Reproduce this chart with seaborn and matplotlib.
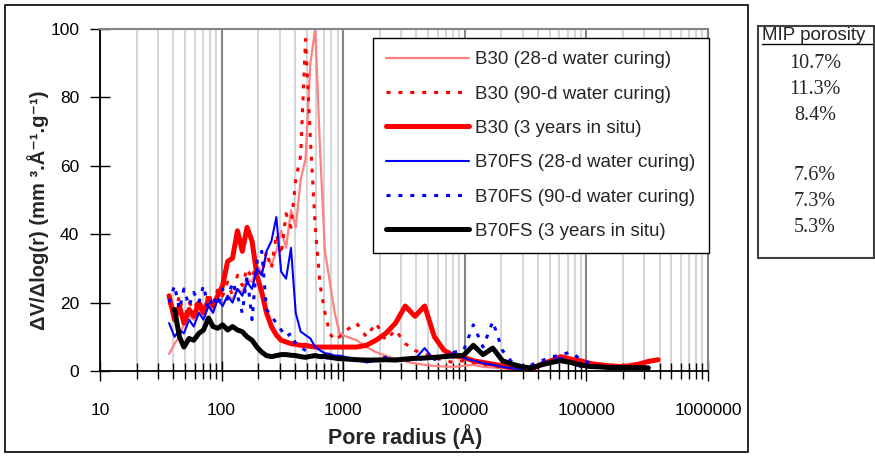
import numpy as np
import pandas as pd
import matplotlib
matplotlib.use("Agg")
import matplotlib.pyplot as plt
import seaborn as sns
from matplotlib.ticker import LogLocator, FuncFormatter, NullFormatter
from matplotlib.patches import Rectangle
from matplotlib.lines import Line2D

nan = np.nan

# ---------------- data ----------------
radius = [37, 41, 45, 49, 54, 59, 65, 71, 78, 85, 93, 102, 112, 123, 135, 148, 162, 178,
          195, 214, 234, 257, 282, 309, 339, 372, 407, 447, 490, 537, 589, 646, 708, 776,
          851, 933,
          1072, 1288, 1549, 1862, 2239, 2692, 3236, 3890, 4677, 5623, 6761, 8128, 9772,
          11750, 14125, 16982, 20417, 24547, 29512, 35481, 42658, 51286, 61660, 74131,
          89125, 107152, 128825, 154882, 186209, 223872, 269153, 323594, 389045]

b30_28d = [5, 8, 10, 14, 16, 15, 18, 16, 19, 18, 21, 19, 22, 21, 24, 23, 27, 26,
           31, 29, 33, 31, 35, 41, 36, 47, 42, 56, 62, 90, 100, 64, 35, 26, 17, 11,
           10, 9, 7, 5.5, 4.5, 3.5, 2.8, 2.2, 1.8, 1.5, 1.3, 1.2, 1.5, 1.8, 1.2, 1, 0.8,
           0.6, 0.4, 0.8, 1.5, 2.2, 2.8, 3.2, 2.6, 2, 1.6, nan, nan, nan, nan, nan, nan]

b30_90d = [20, 17, 22, 15, 20, 18, 21, 17, 23, 19, 24, 22, 26, 22, 28, 25, 30, 27,
           32, 28, 35, 30, 40, 34, 46, 42, 56, 63, 97, 68, 42, 25, 17, 11, 9, 10,
           12, 14, 10, 14, 9, 12, 8, 6, 5, 4, 3, 2.5, 3, 2.5, 2, 1.5, 1.2,
           0.8, 0.5, 1.5, 2.5, 3.5, 3, 4, 3, 2.5, 2, 1.8, 1.5, nan, nan, nan, nan]

b30_3y = [22, 15, 19, 14, 18, 16, 20, 17, 21, 19, 22, 25, 32, 33, 41, 35, 42, 38,
          28, 23, 17, 13, 10.5, 9, 8.5, 8, 7.8, 7.5, 7.5, 7.2, 7, 7, 7, 7, 7, 7,
          7, 7, 7.5, 9, 11, 14, 19, 16, 19, 10, 6, 4.5, 4, 3, 2.5, 2, 1.5,
          0.8, 0.4, 0.6, 2, 3, 4.2, 3.5, 3, 2.2, 1.8, 1.5, 1.3, 1.5, 2, 2.8, 3.3]

b70_28d = [14, 10, 12, 11, 15, 13, 17, 15, 19, 17, 21, 19, 22, 20, 24, 22, 26, 24,
           30, 28, 35, 38, 45, 29, 27, 36, 17, 11.5, 10.5, 9.5, 7, 6, 5.2, 5, 4.5, 4.5,
           4, 3.5, 2.5, 3, 3.5, 3.2, 3.5, 3.5, 6.7, 3.2, 4.5, 5.2, 3.8, 3, 2.3, 1.8, 1.2,
           0.8, 0.5, 1.2, 2, 3, 3.8, 2.5, 1.2, nan, nan, nan, nan, nan, nan, nan, nan]

b70_90d = [20, 25, 18, 24, 19, 23, 20, 25, 18, 22, 19, 24, 21, 26, 22, 17, 28, 15,
           32, 35, 18, 16, 14, 12, 10, 11, 8, 7, 6, 5, 4.5, 4, 4, 3.5, 3.5, 3.5,
           3.5, 3, 3, 3.5, 4, 3.5, 3, 3.5, 3.5, 4, 4.5, 5.5, 6, 13.5, 7, 14.5, 6,
           2.5, 1.5, 1.8, 3, 4, 4.8, 5.5, 3.5, 2.2, 1.5, nan, nan, nan, nan, nan, nan]

b70_3y = [nan, 18, 10, 7, 9.5, 9, 11, 12, 15.5, 13, 12.5, 13.5, 12, 13, 12, 11.5, 10, 9,
          7, 5.5, 4.5, 4.2, 4.5, 4.8, 4.8, 4.6, 4.5, 4.2, 4, 4.3, 4.5, 4.2, 4.3, 4, 3.8, 3.6,
          3.5, 3.3, 3.2, 3.2, 3.3, 3.2, 3.5, 3.7, 3.8, 4, 4.2, 4.4, 4.6, 7.5, 4.8, 6.7, 3,
          2, 1.2, 0.9, 1.8, 2.5, 3, 2.5, 1.8, 1.3, 1.2, 1, 1, 1, 1, 0.9, nan]

series_keys = ["b30_28d", "b30_90d", "b30_3y", "b70_28d", "b70_90d", "b70_3y"]
series_labels = ["B30 (28-d water curing)", "B30 (90-d water curing)", "B30 (3 years in situ)",
                 "B70FS (28-d water curing)", "B70FS (90-d water curing)", "B70FS (3 years in situ)"]
porosity = ["10.7%", "11.3%", "8.4%", "7.6%", "7.3%", "5.3%"]
x_ticks = [10, 100, 1000, 10000, 100000, 1000000]
y_ticks = [0, 20, 40, 60, 80, 100]

df = pd.DataFrame({"radius": radius, "b30_28d": b30_28d, "b30_90d": b30_90d,
                   "b30_3y": b30_3y, "b70_28d": b70_28d, "b70_90d": b70_90d,
                   "b70_3y": b70_3y})

# ---------------- styles ----------------
colors = ["#FF8080", "#FF0000", "#FF0000", "#0000FF", "#0000FF", "#000000"]
widths = [1.6, 2.2, 3.6, 1.5, 2.2, 3.6]
dash = (0, (1.3, 2.6))
styles = ["-", dash, "-", "-", dash, "-"]

sns.set_theme(style="white")
plt.rcParams["font.family"] = ["Liberation Sans", "DejaVu Sans"]

W, H = 875, 457
fig = plt.figure(figsize=(W / 100, H / 100), dpi=100)
ax = fig.add_axes([100 / W, 1 - 371 / H, 608 / W, 342 / H])

for key, col, lw, ls in zip(series_keys, colors, widths, styles):
    sub = df[["radius", key]].dropna()
    sns.lineplot(data=sub, x="radius", y=key, ax=ax, color=col, linewidth=lw,
                 linestyle=ls, estimator=None, sort=True, legend=False)

ax.set_xscale("log")
ax.set_xlim(10, 1e6)
ax.set_ylim(0, 100)
ax.xaxis.set_major_locator(LogLocator(base=10, numticks=12))
ax.xaxis.set_minor_locator(LogLocator(base=10, subs=np.arange(2, 10), numticks=60))
ax.xaxis.set_major_formatter(FuncFormatter(lambda v, p: f"{int(round(v))}"))
ax.xaxis.set_minor_formatter(NullFormatter())
ax.set_xticks(x_ticks)
ax.set_yticks(y_ticks)
ax.set_xlabel("")
ax.set_ylabel("")

ax.tick_params(axis="x", which="major", direction="inout", length=14, width=1.0,
               color="black", labelsize=12.5, pad=16, bottom=True)
ax.tick_params(axis="x", which="minor", direction="inout", length=11, width=1.0,
               color="black", bottom=True)
ax.tick_params(axis="y", which="major", direction="inout", length=14, width=1.0,
               color="black", labelsize=12.5, pad=8, left=True)
for lab in ax.get_xticklabels() + ax.get_yticklabels():
    lab.set_color("black")

ax.grid(False)
ax.grid(which="minor", axis="x", color="#D6D6D6", linewidth=1.5)
ax.grid(which="major", axis="x", color="#858585", linewidth=1.5)
ax.set_axisbelow(True)

for s in ["left", "bottom"]:
    ax.spines[s].set_color("black")
    ax.spines[s].set_linewidth(1.3)
for s in ["top", "right"]:
    ax.spines[s].set_color("#858585")
    ax.spines[s].set_linewidth(1.5)

leg = ax.legend(ax.lines[:6], series_labels, loc="upper left",
                bbox_to_anchor=(0.449, 0.974), fontsize=13.5, frameon=True,
                fancybox=False, edgecolor="black", handlelength=4.4,
                handletextpad=0.35, labelspacing=0.92, borderpad=0.7,
                borderaxespad=0)
leg.get_frame().set_linewidth(1.0)
leg.get_frame().set_alpha(1)

# axis titles
fig.text(38 / W, 1 - 210 / H, "ΔV/Δlog(r) (mm ³.Å⁻¹.g⁻¹)", rotation=90,
         ha="center", va="center", fontsize=14.5, fontweight="bold",
         family=["Liberation Sans", "DejaVu Sans"])
fig.text(405 / W, 1 - 437 / H, "Pore radius (Å)", ha="center", va="center",
         fontsize=15.5, fontweight="bold")

# outer frame around chart
fig.add_artist(Rectangle((5 / W, 1 - 452 / H), 743 / W, 447 / H, transform=fig.transFigure,
                         fill=False, edgecolor="black", linewidth=1.2))

# porosity box
fig.add_artist(Rectangle((758 / W, 1 - 258 / H), 116 / W, 232 / H, transform=fig.transFigure,
                         fill=False, edgecolor="#404040", linewidth=1.5))
fig.text(762 / W, 1 - 35 / H, "MIP porosity", ha="left", va="center", fontsize=13.5)
fig.add_artist(Line2D([762 / W, 872 / W], [1 - 44 / H, 1 - 44 / H], transform=fig.transFigure,
                      color="black", linewidth=1.0))
row_y = [63, 90, 116, 175, 202, 228]
for val, yy in zip(porosity, row_y):
    fig.text(815 / W, 1 - yy / H, val, ha="center", va="center", fontsize=14.5,
             family="Liberation Serif")

fig.savefig("out.png", dpi=100)
